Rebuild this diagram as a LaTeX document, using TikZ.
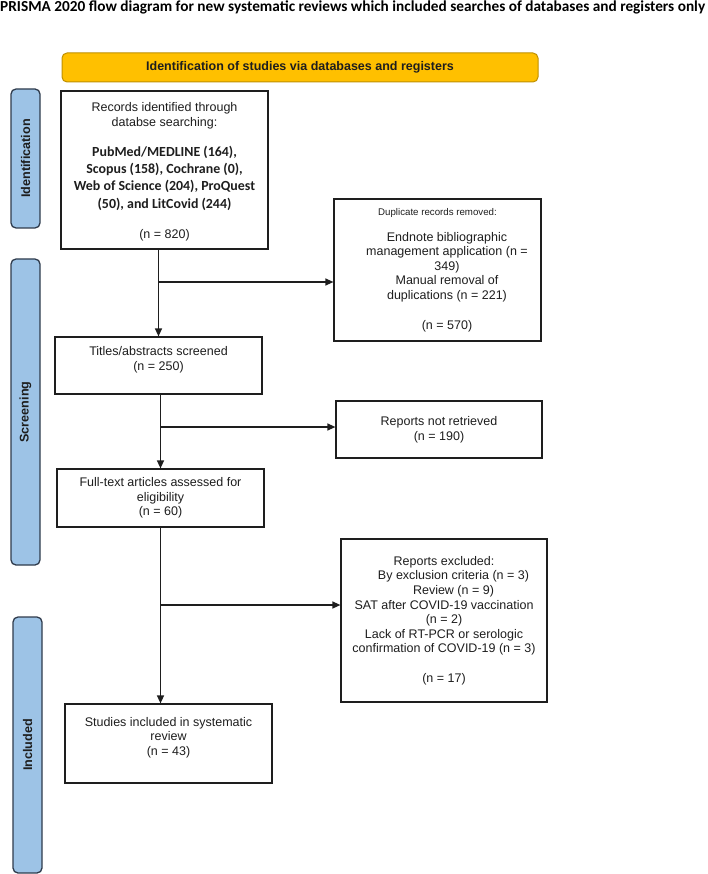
\documentclass[tikz,border=0pt]{standalone}
\usepackage{fontspec}
\setmainfont{Liberation Sans}
\newfontfamily\calibri{Carlito}
\usetikzlibrary{arrows.meta,calc}
\definecolor{hdrfill}{HTML}{FFC000}
\definecolor{hdrdraw}{HTML}{BF9000}
\definecolor{barfill}{HTML}{9DC3E6}
\definecolor{bardraw}{HTML}{2F3B4C}
\definecolor{ink}{HTML}{1E1E1E}
\begin{document}
\begin{tikzpicture}[x=1pt,y=-1pt,
  box/.style={draw=ink, line width=1.2pt, fill=white, inner sep=0pt},
  txt/.style={font=\fontsize{12.5}{14.6}\selectfont, text=ink, align=center, inner sep=0pt},
  smalltxt/.style={font=\fontsize{9.7}{12}\selectfont, text=ink, align=center, inner sep=0pt},
  boldtxt/.style={font=\calibri\bfseries\fontsize{13.9}{17.3}\selectfont, text=ink, align=center, inner sep=0pt},
  bar/.style={draw=bardraw, fill=barfill, line width=1.3pt, rounded corners=5pt, inner sep=0pt, minimum width=29pt},
  bartxt/.style={font=\bfseries\fontsize{12.6}{14}\selectfont, text=ink, rotate=90, inner sep=0pt},
  hdr/.style={draw=hdrdraw, fill=hdrfill, line width=1pt, rounded corners=5pt, inner sep=0pt,
    font=\bfseries\fontsize{12.5}{14}\selectfont, text=ink},
  arr/.style={draw=ink, line width=1.3pt, -{Triangle[length=8pt,width=7pt]}}]
\useasboundingbox (0,0) rectangle (708,874);

% title
\node[font=\calibri\bfseries\fontsize{15.3}{17}\selectfont, text=black, anchor=base west, inner sep=0pt] (title) at (0,12)
  {PRISMA 2020 flow diagram for new systematic reviews which included searches of databases and registers only};

% header
\node[hdr, minimum width=476pt, minimum height=29pt] (header) at (300,67.5)
  {Identification of studies via databases and registers};

% side bars
\node[bar, minimum height=139pt] (idbar) at (25.5,158.5) {};
\node[bartxt] (idlab) at (idbar.center) {Identification};
\node[bar, minimum height=306pt] (scbar) at (25.5,412) {};
\node[bartxt] (sclab) at (scbar.center) {Screening};
\node[bar, minimum height=256pt] (inbar) at (27.5,745) {};
\node[bartxt] (inlab) at (inbar.center) {Included};

% records box
\node[box, minimum width=207pt, minimum height=158pt] (records) at (164.5,170) {};
\node[txt] (recA) at (164.5,115.5) {Records identified through\\databse searching:};
\node[boldtxt] (recB) at (164.5,178) {PubMed/MEDLINE (164),\\Scopus (158), Cochrane (0),\\Web of Science (204), ProQuest\\(50), and LitCovid (244)};
\node[txt] (recC) at (164.5,235) {(n = 820)};

% duplicates box
\node[box, minimum width=207pt, minimum height=142pt] (dup) at (437.5,270) {};
\node[smalltxt] (dupA) at (437.5,213) {Duplicate records removed:};
\node[txt] (dupB) at (447,267) {Endnote bibliographic\\management application (n =\\349)\\Manual removal of\\duplications (n = 221)};
\node[txt] (dupC) at (447,326) {(n = 570)};

% titles box
\node[box, minimum width=207pt, minimum height=57pt] (titles) at (158.5,365.5) {};
\node[txt] (titlesT) at (158.5,359.5) {Titles/abstracts screened\\(n = 250)};

% not retrieved
\node[box, txt, minimum width=206pt, minimum height=57pt] (notret) at (439,429.5) {Reports not retrieved\\(n = 190)};

% full text
\node[box, txt, minimum width=207pt, minimum height=58pt] (full) at (160.5,498) {Full-text articles assessed for\\eligibility\\(n = 60)};

% excluded
\node[box, txt, minimum width=206pt, minimum height=163pt] (excl) at (444,620.5)
  {Reports excluded:\\\hspace*{19pt}By exclusion criteria (n = 3)\\\hspace*{19pt}Review (n = 9)\\SAT after COVID-19 vaccination\\(n = 2)\\Lack of RT-PCR or serologic\\confirmation of COVID-19 (n = 3)\\[14.6pt](n = 17)};

% studies included
\node[box, minimum width=207pt, minimum height=79pt] (studies) at (168.5,743.5) {};
\node[txt] (studiesT) at (168.5,737.5) {Studies included in systematic\\review\\(n = 43)};

% connectors
\draw[arr] (titles.north |- records.south) -- (titles.north);
\coordinate (b1) at (158.5,282);
\draw[arr] (b1) -- (b1 -| dup.west);
\draw[arr] (full.north |- titles.south) -- (full.north);
\coordinate (b2) at (160.5,427);
\draw[arr] (b2) -- (b2 -| notret.west);
\draw[arr] (full.south) -- (full.south |- studies.north);
\coordinate (b3) at (160.5,605);
\draw[arr] (b3) -- (b3 -| excl.west);
\end{tikzpicture}
\end{document}
